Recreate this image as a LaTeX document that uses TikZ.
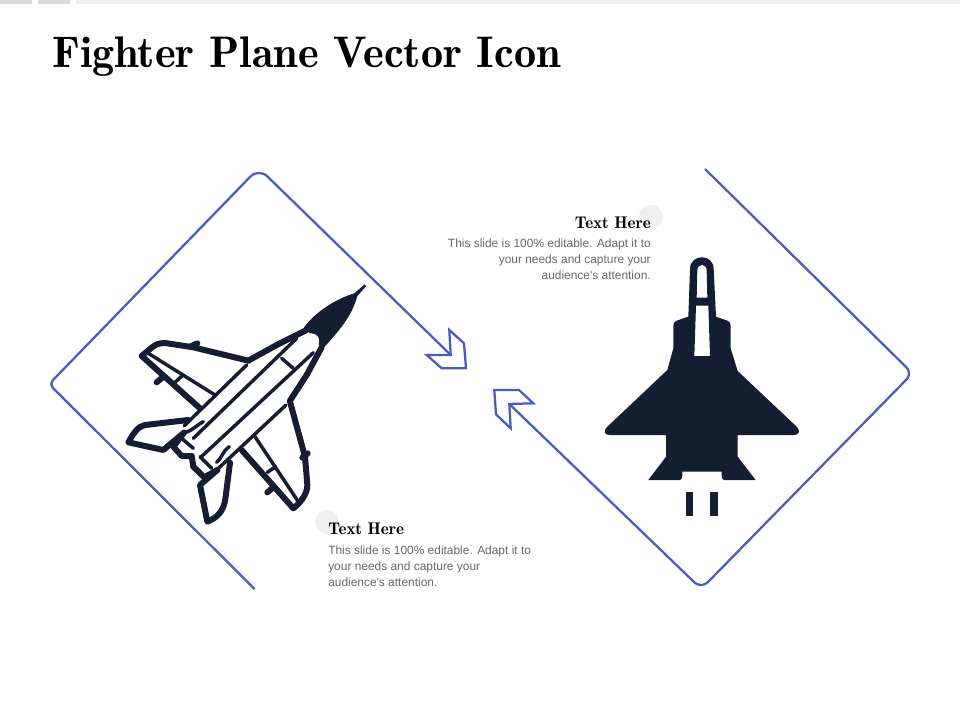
\documentclass[tikz,border=0pt]{standalone}
\usepackage{fontspec}
\newfontfamily\bodyfont{Liberation Sans}
\definecolor{navy}{HTML}{141E33}
\definecolor{frameblue}{HTML}{4A5BC4}
\definecolor{softgray}{HTML}{EFEFEF}
\definecolor{bargray}{HTML}{D9D9D9}
\definecolor{bodygray}{HTML}{666666}
\tikzset{
  framepath/.style={draw=frameblue,line width=1.7pt,line join=miter,fill=none},
  heavy/.style={draw=navy,line width=4.5pt,line join=round,line cap=round},
  light/.style={draw=navy,line width=2.6pt,line cap=round},
  titletext/.style={anchor=base west,inner sep=0pt,font=\fontseries{b}\selectfont\fontsize{33.2}{36}\selectfont,text=black},
  headtext/.style={inner sep=0pt,font=\fontseries{b}\selectfont\fontsize{12.7}{15}\selectfont,text=black},
  bodytext/.style={inner sep=0pt,font=\bodyfont\fontsize{8.95}{12}\selectfont,text=bodygray}
}
\begin{document}
\begin{tikzpicture}[x=0.75pt,y=-0.75pt]
\useasboundingbox (0,0) rectangle (960,720);
% top bars
\fill[bargray] (0,0) rectangle (32,4);
\fill[bargray] (38,0) rectangle (70,4);
\fill[softgray] (76,0) rectangle (960,4);
% title
\node[titletext] (title) at (52,68) {Fighter Plane Vector Icon};
% dots
\fill[softgray] (327,522) circle (12);
\fill[softgray] (651,217) circle (12);
% left frame and arrow
\coordinate (la) at (450.7,355);
\draw[framepath] (254.5,589) -- (55,390) .. controls (50,385) and (50,383) .. (55,378) -- (250,177) .. controls (255,171.5) and (263,171.5) .. (268,177) -- (la);
\draw[framepath] (449.3,330) -- (464,343.3) -- (466,368.3) -- (441.7,368.3) -- (426.7,355) -- (la) -- cycle;
% right frame and arrow
\coordinate (ra) at (509.3,404);
\draw[framepath] (705,169) -- (905,366) .. controls (910.5,371) and (910.5,376) .. (905,381) -- (709,581) .. controls (704,586.5) and (698,586.5) .. (693,581) -- (ra);
\draw[framepath] (494.3,390) -- (519,390) -- (533.3,403.3) -- (ra) -- (510.7,428.3) -- (496,414.3) -- cycle;
% left plane (coordinates of a 3x crop)
\begin{scope}[shift={(110,270)},x=0.25pt,y=-0.25pt]
  % nose
  \fill[navy] (582,172) .. controls (620,122) and (680,86) .. (733,70) -- (764,43) -- (768,49) -- (742,78)
     .. controls (728,128) and (702,168) .. (640,234) -- (626,225) .. controls (632,205) and (625,190) .. (600,190) -- cycle;
  % fuselage skin
  \draw[heavy] (590,180) -- (500,225) -- (415,272);
  \draw[heavy] (635,232) -- (590,315) -- (540,392);
  % wing, upper left
  \draw[heavy] (415,272) -- (250,232) -- (165,219) .. controls (145,219) and (135,225) .. (125,233) -- (95,258) -- (270,415);
  \draw[light] (115,250) -- (315,375);
  \draw[light] (195,337) -- (218,316);
  \draw[heavy] (240,230) -- (262,220);
  \draw[heavy] (140,337) -- (158,322);
  % tail, left
  \draw[heavy] (235,450) -- (105,465) .. controls (85,468) and (70,490) .. (55,517) -- (160,540) -- (222,488);
  % wing, lower right
  \draw[heavy] (540,395) -- (585,560) -- (592,645) .. controls (592,670) and (575,695) .. (550,715) -- (395,540);
  \draw[light] (435,500) -- (565,695);
  \draw[light] (472,607) -- (497,590);
  \draw[heavy] (577,563) -- (593,550);
  \draw[heavy] (472,667) -- (490,652);
  % tail, lower
  \draw[heavy] (360,578) -- (347,680) .. controls (343,715) and (330,740) .. (292,755) -- (270,645) -- (322,600);
  % fuselage lines
  \draw[light] (410,285) -- (222,468);
  \draw[light] (560,205) -- (250,505);
  \draw[light] (610,248) -- (272,562);
  \draw[light] (528,405) -- (322,598);
  \draw[light] (515,265) -- (550,295);
  \draw[light] (225,488) .. controls (250,480) and (260,465) .. (280,455);
  \draw[light] (320,577) .. controls (335,565) and (340,540) .. (358,530);
  % rear and nozzles
  \draw[heavy] (222,488) -- (190,530) -- (215,558) -- (245,558);
  \draw[heavy] (250,590) -- (283,622) -- (322,600);
  \draw[heavy] (245,558) -- (250,590);
  \draw[light] (215,505) -- (250,535);
  \draw[light] (270,560) -- (305,595);
\end{scope}
% right plane (coordinates of a 3x crop)
\begin{scope}[shift={(590,245)},x=0.25pt,y=-0.25pt]
  \fill[navy,even odd rule]
    (300,72) .. controls (300,25) and (371,25) .. (371,72) -- (378,215) -- (412,227) .. controls (420,230) and (422,235) .. (422,242)
    -- (422,310) -- (443,378) -- (620,545) .. controls (632,557) and (628,570) .. (612,570) -- (443,570) -- (443,635) -- (497,705) -- (402,705)
    .. controls (396,705) and (395,700) .. (395,680) -- (277,680) .. controls (277,700) and (276,705) .. (270,705) -- (175,705)
    -- (228,635) -- (228,570) -- (58,570) .. controls (42,570) and (40,557) .. (52,545) -- (232,375) -- (250,310) -- (250,242)
    .. controls (250,235) and (252,230) .. (260,227) -- (295,215) -- cycle
    (320,158) -- (352,158) -- (350,75) .. controls (349,55) and (323,55) .. (322,75) -- cycle
    (318,182) -- (355,182) -- (360,333) -- (313,333) -- cycle;
  \fill[navy] (288,742) rectangle (309,812);
  \fill[navy] (360,742) rectangle (383,812);
\end{scope}
% texts
\node[headtext,anchor=base east] (h1) at (651,229) {Text Here};
\node[bodytext,anchor=base east] (b11) at (651,248) {This slide is 100\% editable. Adapt it to};
\node[bodytext,anchor=base east] (b12) at (651,264) {your needs and capture your};
\node[bodytext,anchor=base east] (b13) at (651,280) {audience's attention.};
\node[headtext,anchor=base west] (h2) at (328,534) {Text Here};
\node[bodytext,anchor=base west] (b21) at (328,554) {This slide is 100\% editable. Adapt it to};
\node[bodytext,anchor=base west] (b22) at (328,570) {your needs and capture your};
\node[bodytext,anchor=base west] (b23) at (328,586) {audience's attention.};
\end{tikzpicture}
\end{document}
